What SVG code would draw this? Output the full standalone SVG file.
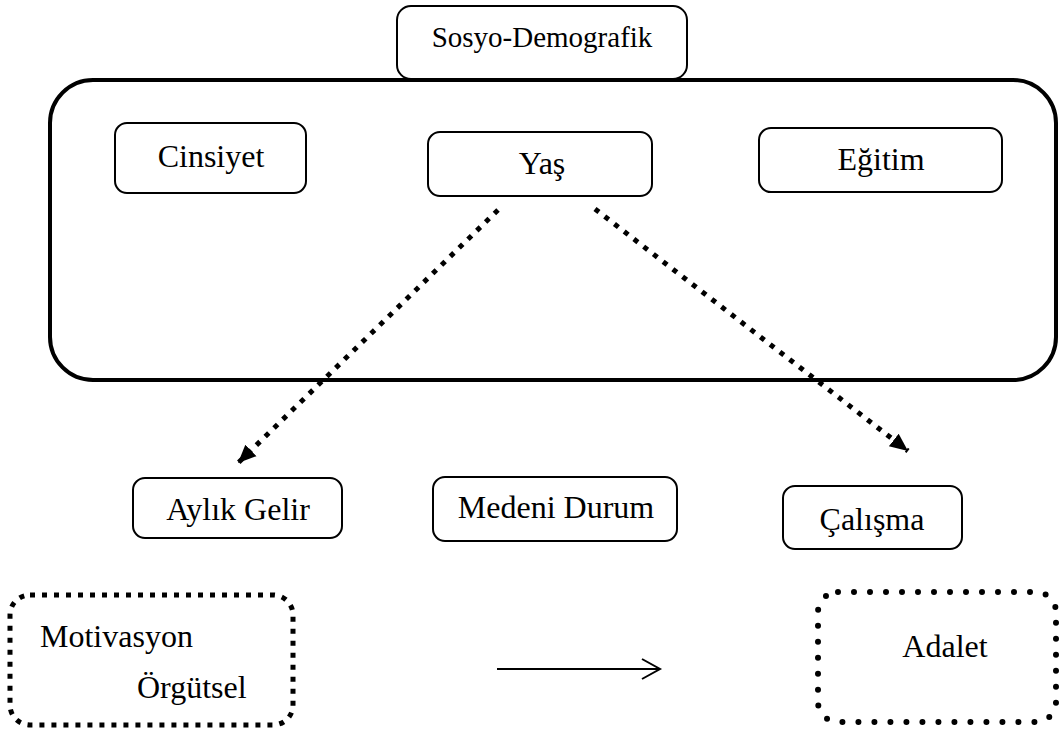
<svg xmlns="http://www.w3.org/2000/svg" width="1059" height="729" viewBox="0 0 1059 729">
<style>
.box{fill:#fff;stroke:#000;stroke-width:2}
.t{font-family:"Liberation Serif","Times New Roman",serif;font-size:32px;fill:#000;text-anchor:middle}
.dl{fill:none;stroke:#000;stroke-width:5;stroke-dasharray:5 7.3}
</style>
<defs>
<marker id="ah" markerUnits="userSpaceOnUse" markerWidth="20" markerHeight="20" viewBox="0 0 20 20" refX="18" refY="10" orient="auto">
<path d="M0,2 L18,10 L0,18 Z" fill="#000"/>
</marker>
</defs>
<rect id="frame" x="50" y="80" width="1006" height="300" rx="43" fill="none" stroke="#000" stroke-width="4"/>
<g id="sosyo"><rect class="box" x="397" y="6" width="290" height="73" rx="14"/><text class="t" x="542" y="47" style="font-size:29px">Sosyo-Demografik</text></g>
<g id="cinsiyet"><rect class="box" x="115" y="123" width="191" height="70" rx="12"/><text class="t" x="211" y="167">Cinsiyet</text></g>
<g id="yas"><rect class="box" x="428" y="132" width="224" height="64" rx="12"/><text class="t" x="542" y="174">Yaş</text></g>
<g id="egitim"><rect class="box" x="759" y="128" width="243" height="64" rx="12"/><text class="t" x="881" y="170">Eğitim</text></g>
<g id="aylik"><rect class="box" x="133" y="478" width="209" height="60" rx="12"/><text class="t" x="238" y="520">Aylık Gelir</text></g>
<g id="medeni"><rect class="box" x="433" y="477" width="244" height="64" rx="12"/><text class="t" x="556" y="518">Medeni Durum</text></g>
<g id="calisma"><rect class="box" x="783" y="486" width="179" height="63" rx="12"/><text class="t" x="872" y="530">Çalışma</text></g>
<g id="motivasyon"><rect x="10" y="595" width="283" height="130" rx="20" fill="none" stroke="#000" stroke-width="5" stroke-dasharray="5 7"/><text class="t" x="40" y="647" style="text-anchor:start">Motivasyon</text><text class="t" x="137" y="698" style="text-anchor:start">Örgütsel</text></g>
<g id="adalet"><rect x="818" y="592" width="238" height="130" rx="20" fill="none" stroke="#000" stroke-width="6" stroke-dasharray="0 16" stroke-linecap="round"/><text class="t" x="945" y="657">Adalet</text></g>
<g id="connectors">
<line class="dl" x1="498" y1="210" x2="238" y2="463" marker-end="url(#ah)"/>
<line class="dl" x1="595" y1="209" x2="908" y2="451" marker-end="url(#ah)"/>
<line x1="497" y1="669" x2="659" y2="669" stroke="#000" stroke-width="2"/>
<polyline points="642,659 660,669 642,679" fill="none" stroke="#000" stroke-width="2"/>
</g>
</svg>
